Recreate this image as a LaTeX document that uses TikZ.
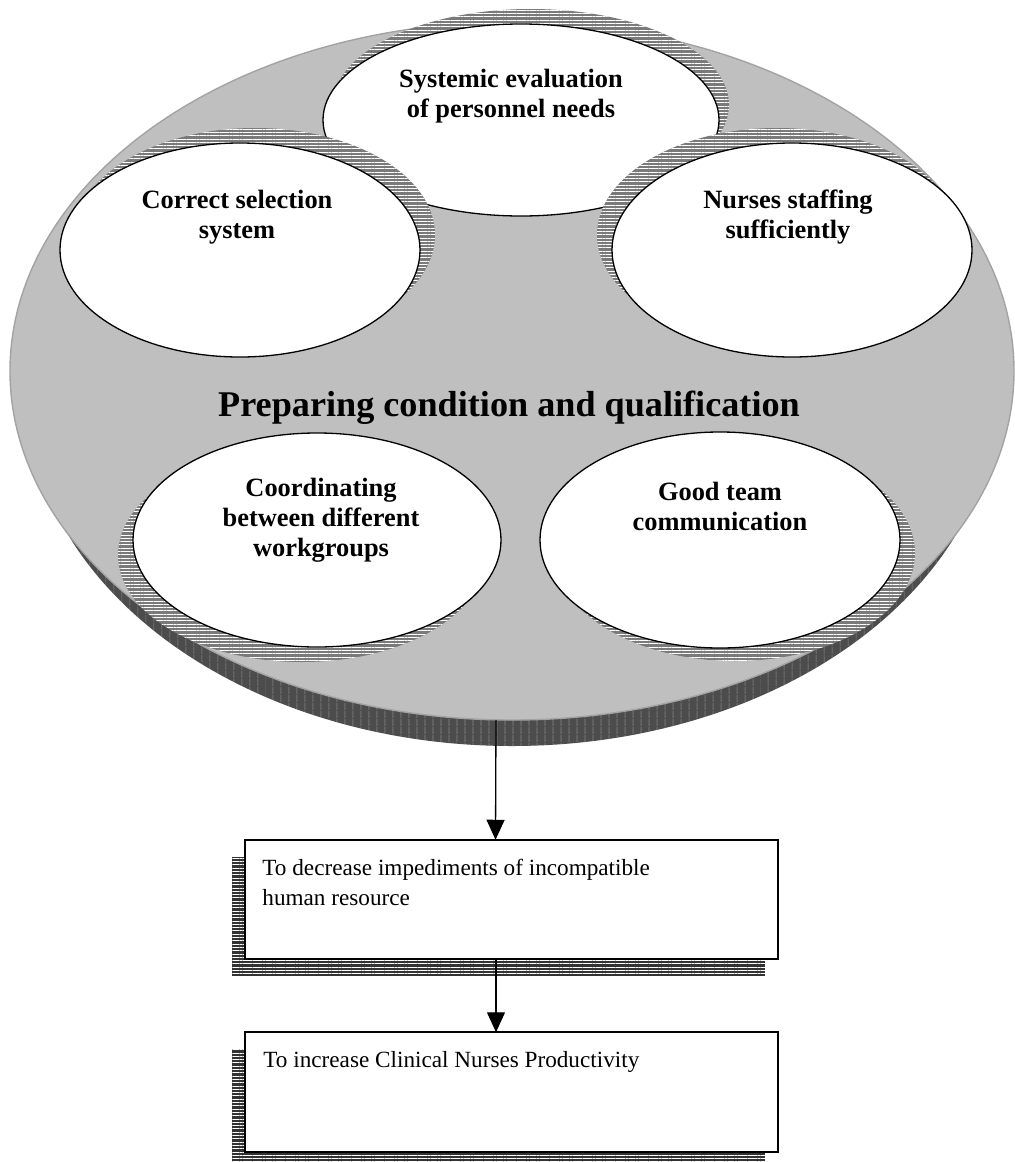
\documentclass[tikz,border=0pt]{standalone}
\usepackage{fontspec}
\setmainfont{Liberation Serif}
\usetikzlibrary{shapes.geometric, arrows.meta, patterns.meta}
\tikzset{
    > = {Triangle[length=10pt, width=9pt]},
    link/.style = {->, line width=0.65pt},
    bubblesize/.style 2 args = {minimum width=#1pt, minimum height=#2pt},
    plate/.style = {ellipse, fill=black!25, draw=black!36, line width=0.7pt,
        inner sep=0pt, outer sep=0pt, bubblesize={502}{349}},
    platedepth/.style = {ellipse, draw=none, inner sep=0pt, bubblesize={485}{354},
        preaction={fill=black!70}, pattern={Lines[angle=90, distance=4pt, line width=0.2pt]},
        pattern color=black!45},
    bubble/.style = {ellipse, fill=white, draw, line width=0.65pt, inner sep=0pt, outer sep=0pt},
    bubbleshade/.style = {ellipse, draw=none, inner sep=0pt, preaction={fill=black!52},
        pattern={Lines[distance=1.65pt, line width=0.45pt]}, pattern color=white},
    bubbletext/.style = {align=center, font=\bfseries\fontsize{13.2}{15}\selectfont},
    platetext/.style = {font=\bfseries\fontsize{18.1}{22}\selectfont},
    goal/.style = {rectangle, fill=white, draw, line width=0.8pt, inner sep=0pt, outer sep=0pt,
        minimum width=266.5pt, minimum height=59.75pt},
    goalshade/.style = {rectangle, draw=none, inner sep=0pt, minimum width=266.5pt,
        minimum height=59.75pt, preaction={fill=black!80},
        pattern={Lines[distance=1.65pt, line width=0.5pt]}, pattern color=white},
    goaltext/.style = {anchor=north west, align=left, inner sep=0pt,
        font=\fontsize{11.6}{15}\selectfont}
}

\begin{document}
\begin{tikzpicture}[x=0.5pt, y=-0.5pt]
    \useasboundingbox (0,0) rectangle (1014,1162);

    % big plate
    \node[platedepth] (depth) at (512,392) {};
    \node[plate] (plate) at (512,371) {};

    % top bubble
    \node[bubbleshade, bubblesize={198}{96}] (needs-sh) at (531,105) {};
    \node[bubble, bubblesize={198}{96}] (needs) at (521,120) {};

    % lower bubbles
    \node[bubbleshade, bubblesize={184}{107}] (coord-sh) at (302,555) {};
    \node[bubble, bubblesize={184}{107}] (coord) at (317,540) {};
    \node[bubbleshade, bubblesize={180}{108}] (team-sh) at (735,553) {};
    \node[bubble, bubblesize={180}{108}] (team) at (720,540) {};

    % upper side bubbles
    \node[bubbleshade, bubblesize={180}{107}] (select-sh) at (255,235) {};
    \node[bubble, bubblesize={180}{107}] (select) at (240,250) {};
    \node[bubbleshade, bubblesize={180}{107}] (staff-sh) at (777,235) {};
    \node[bubble, bubblesize={180}{107}] (staff) at (792,250) {};

    \node[bubbletext] (needs-t) at (511,96) {Systemic evaluation\\of personnel needs};
    \node[bubbletext] (select-t) at (237,217) {Correct selection\\system};
    \node[bubbletext] (staff-t) at (788,217) {Nurses staffing\\sufficiently};
    \node[bubbletext] (coord-t) at (321,520) {Coordinating\\between different\\workgroups};
    \node[bubbletext] (team-t) at (720,506) {Good team\\communication};
    \node[platetext] (plate-t) at (509,408) {Preparing condition and qualification};

    % goals
    \node[goalshade] (less-sh) at (498.5,916.5) {};
    \node[goal] (less) at (511.5,899.5) {};
    \node[goaltext] (less-t) at (262,859) {To decrease impediments of incompatible\\human resource};

    \node[goalshade] (more-sh) at (498.5,1109) {};
    \node[goal] (more) at (511.5,1092) {};
    \node[goaltext] (more-t) at (263,1051) {To increase Clinical Nurses Productivity};

    \draw[link] ([xshift=-8pt]plate.south) -- ([xshift=-8pt]less.north);
    \draw[link] ([xshift=-7.75pt]less.south) -- ([xshift=-7.75pt]more.north);
\end{tikzpicture}
\end{document}
